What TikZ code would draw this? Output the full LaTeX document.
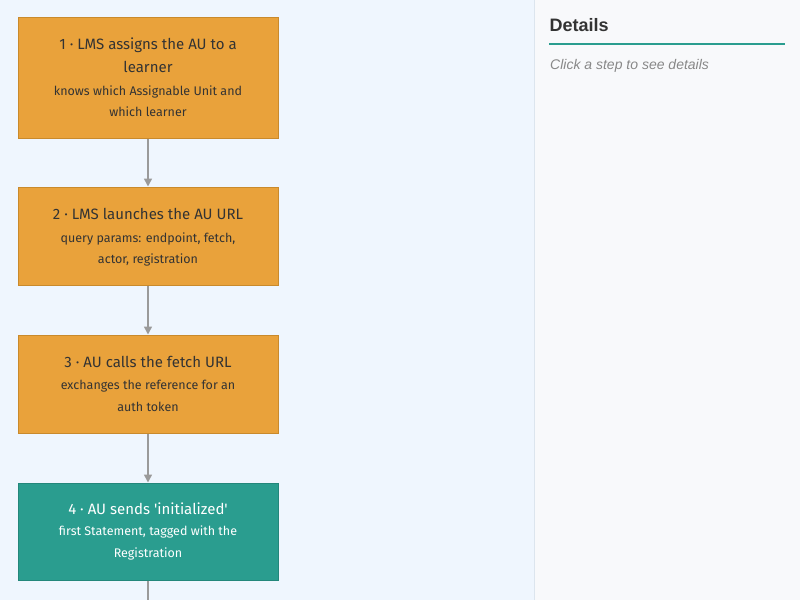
\documentclass[tikz,border=0pt]{standalone}
\usepackage{fontspec}
\setmainfont{Fira Sans}
\newfontfamily\detfont{Liberation Sans}
\usetikzlibrary{arrows.meta}
\definecolor{leftbg}{HTML}{EFF6FE}
\definecolor{rightbg}{HTML}{F8F9FB}
\definecolor{sepline}{HTML}{DCE5EE}
\definecolor{orangefill}{HTML}{E9A23B}
\definecolor{orangedraw}{HTML}{C98A2C}
\definecolor{tealfill}{HTML}{2A9D8F}
\definecolor{tealdraw}{HTML}{23877B}
\definecolor{textdark}{HTML}{333333}
\definecolor{arrowgray}{HTML}{9A9A9A}
\definecolor{hint}{HTML}{888888}
\tikzset{
  x=1pt, y=-1pt,
  stepbox/.style={draw=orangedraw, fill=orangefill, line width=1pt, minimum width=260pt, inner sep=0pt},
  tealbox/.style={stepbox, draw=tealdraw, fill=tealfill},
  ttl/.style={align=center, font=\fontsize{15}{23}\selectfont, text=textdark, inner sep=0pt},
  sub/.style={align=center, font=\fontsize{12.5}{21.5}\selectfont, text=textdark, inner sep=0pt},
  conn/.style={draw=arrowgray, line width=1.5pt, -{Triangle[width=8pt,length=8pt]}},
  plainconn/.style={draw=arrowgray, line width=1.5pt}
}
\begin{document}
\begin{tikzpicture}
\useasboundingbox (0,0) rectangle (800,600);
\fill[leftbg] (0,0) rectangle (534,600);
\fill[rightbg] (534,0) rectangle (800,600);
\draw[sepline, line width=1pt] (534,0) -- (534,600);

% boxes
\node[stepbox, minimum height=121pt] (b1) at (148,77.5) {};
\node[stepbox, minimum height=98pt] (b2) at (148,236) {};
\node[stepbox, minimum height=98pt] (b3) at (148,384) {};
\node[tealbox, minimum height=97pt] (b4) at (148,531.5) {};

\node[ttl] (t1) at (148,55) {1 · LMS assigns the AU to a\\learner};
\node[sub] (s1) at (148,101) {knows which Assignable Unit and\\which learner};
\node[ttl] (t2) at (148,214) {2 · LMS launches the AU URL};
\node[sub] (s2) at (148,249.5) {query params: endpoint, fetch,\\actor, registration};
\node[ttl] (t3) at (148,361.5) {3 · AU calls the fetch URL};
\node[sub] (s3) at (148,396) {exchanges the reference for an\\auth token};
\node[ttl, text=white] (t4) at (148,508.5) {4 · AU sends \textquotesingle initialized\textquotesingle};
\node[sub, text=white] (s4) at (148,543) {first Statement, tagged with the\\Registration};

\coordinate (end) at (148,600);
\draw[conn] (b1.south) -- (b2.north);
\draw[conn] (b2.south) -- (b3.north);
\draw[conn] (b3.south) -- (b4.north);
\draw[plainconn] (b4.south) -- (end);

% details panel
\node[anchor=base west, inner sep=0pt, font=\detfont\fontsize{18}{20}\selectfont\bfseries, text=textdark] (dt) at (549.5,31) {Details};
\coordinate (ul1) at (549,44);
\coordinate (ul2) at (785,44);
\draw[tealfill, line width=2pt] (ul1) -- (ul2);
\node[anchor=base west, inner sep=0pt, font=\detfont\fontsize{14}{16}\selectfont\itshape, text=hint] (hn) at (550,69) {Click a step to see details};
\end{tikzpicture}
\end{document}
